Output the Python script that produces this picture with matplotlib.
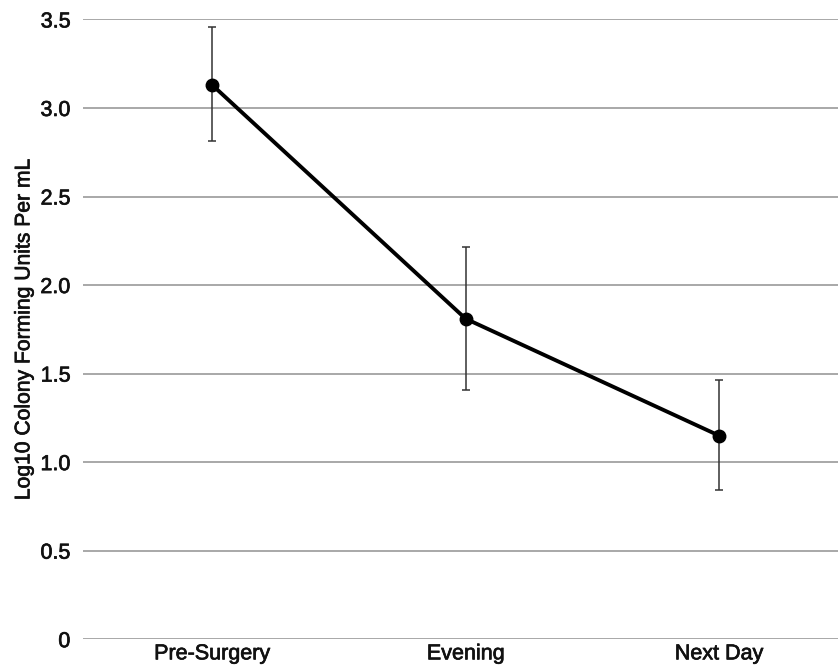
import numpy as np
import matplotlib
matplotlib.use("Agg")
import matplotlib.pyplot as plt
import matplotlib.patheffects as pe

plt.rcParams['font.family'] = ['Liberation Sans', 'DejaVu Sans']

categories = ["Pre-Surgery", "Evening", "Next Day"]
means = [3.13, 1.81, 1.15]
err_low = [2.815, 1.41, 0.84]
err_high = [3.455, 2.215, 1.465]
yticks = [0, 0.5, 1.0, 1.5, 2.0, 2.5, 3.0, 3.5]
ytick_labels = ["0", "0.5", "1.0", "1.5", "2.0", "2.5", "3.0", "3.5"]

x = np.arange(len(categories))
means = np.array(means)
yerr = [means - np.array(err_low), np.array(err_high) - means]

fig = plt.figure(figsize=(8.38, 6.70), dpi=100)
ax = fig.add_axes([0.099, 0.046, 0.901, 0.925])

# gridlines
for t in yticks:
    ax.axhline(t, color='#999999', lw=1.2, zorder=1)

ax.errorbar(x, means, yerr=yerr, fmt='none', ecolor='#333333', elinewidth=1.1,
            capsize=2.6, capthick=1.1, zorder=2)
ax.plot(x, means, color='black', lw=2.8, marker='o', markersize=9, zorder=3)

ax.set_xlim(-0.51, 2.47)
ax.set_ylim(0, 3.5)
ax.set_yticks(yticks)
ax.set_yticklabels(ytick_labels)
ax.set_xticks(x)
ax.set_xticklabels(categories)
ax.tick_params(axis='y', length=0, pad=9, labelsize=15.5, colors='#111111')
ax.tick_params(axis='x', length=0, pad=3, labelsize=15.5, colors='#111111')
ax.set_ylabel("Log10 Colony Forming Units Per mL", fontsize=15.2, color='#111111', labelpad=5)
for s in ax.spines.values():
    s.set_visible(False)
ax.patch.set_alpha(0)

# slightly heavier text like the original
heavy = [pe.withStroke(linewidth=0.5, foreground='#111111')]
for t in ax.get_xticklabels() + ax.get_yticklabels() + [ax.yaxis.label]:
    t.set_path_effects(heavy)

fig.savefig("out.png", dpi=100)
